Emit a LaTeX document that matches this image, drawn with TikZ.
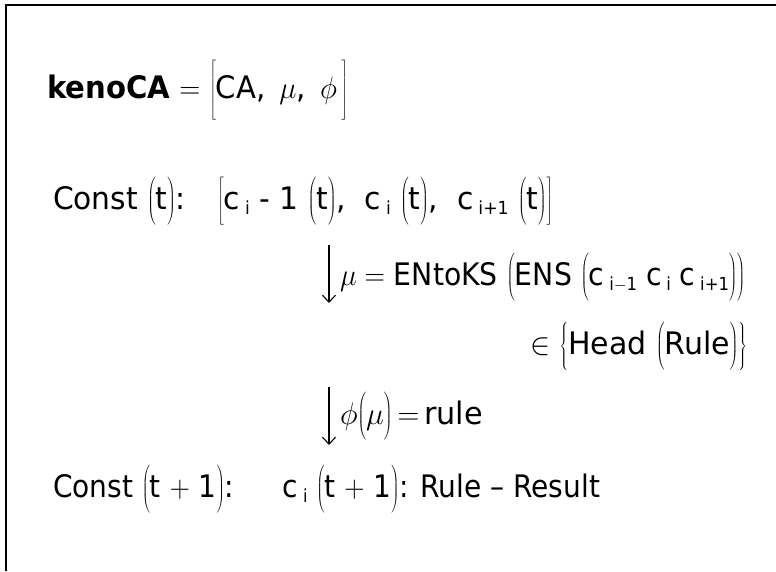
\RequirePackage{fix-cm}
\documentclass[tikz,border=0pt]{standalone}
\usepackage{fontspec}
\setmainfont{DejaVu Sans}
\usetikzlibrary{arrows.meta}
\newcommand\Dl[2]{$\left#1\vcenter to #2{}\right.$}
\newcommand\sbs[1]{\raisebox{-5pt}{\fontsize{18}{18}\selectfont #1}}
\newcommand\fitw[2]{\resizebox{#1}{\height}{#2}}
\tikzset{
  txt/.style={anchor=base west, inner sep=0pt, outer sep=0pt, font=\fontsize{31}{37}\selectfont},
  frame/.style={line width=2.5pt, line cap=butt, line join=miter},
  darrow/.style={line width=1.1pt, -{Straight Barb[length=7pt,width=13pt]}}
}
\begin{document}
\begin{tikzpicture}[x=1pt,y=-1pt]
\nulldelimiterspace=0pt \delimiterfactor=1000 \delimitershortfall=0pt
\useasboundingbox (0,0) rectangle (776,571);
\draw[frame] (6,571) -- (6,5) -- (776,5);
% line 1
\node[txt] (l1) at (47,98) {\fitw{301pt}{\textbf{kenoCA} $=$ \Dl{[}{55pt}CA, \,$\mu$, \,$\phi$\,\Dl{]}{55pt}}};
% line 2
\node[txt] (l2) at (53,209) {\fitw{500pt}{Const \Dl{(}{47pt}t\Dl{)}{47pt}: \ \ \Dl{[}{47pt}c\,\sbs{i} - 1 \Dl{(}{47pt}t\Dl{)}{47pt}, \ c\,\sbs{i} \Dl{(}{47pt}t\Dl{)}{47pt}, \ c\,\sbs{i+1} \Dl{(}{47pt}t\Dl{)}{47pt}\Dl{]}{47pt}}};
% arrow 1
\coordinate (a1s) at (329,245);
\coordinate (a1e) at (329,303);
\draw[darrow] (a1s) -- (a1e);
% line 3
\node[txt] (l3) at (340,285) {\fitw{405pt}{$\mu=$ ENtoKS \Dl{(}{47pt}ENS \Dl{(}{47pt}c\,\sbs{i$-$1} c\,\sbs{i} c\,\sbs{i+1}\Dl{)}{47pt}\Dl{)}{47pt}}};
% line 4
\node[txt] (l4) at (530,354) {\fitw{217pt}{$\in$ \Dl{\{}{47pt}Head \Dl{(}{47pt}Rule\Dl{)}{47pt}\Dl{\}}{47pt}}};
% arrow 2
\coordinate (a2s) at (329,387);
\coordinate (a2e) at (329,445);
\draw[darrow] (a2s) -- (a2e);
% line 5
\node[txt] (l5) at (340,424) {\fitw{143pt}{$\phi$\Dl{(}{47pt}$\mu$\Dl{)}{47pt}\,$=$\,rule}};
% line 6
\node[txt] (l6) at (53,497) {\fitw{547pt}{Const \Dl{(}{47pt}t $+$ 1\Dl{)}{47pt}: \quad\ c\,\sbs{i} \Dl{(}{47pt}t $+$ 1\Dl{)}{47pt}: Rule -- Result}};
\end{tikzpicture}
\end{document}
